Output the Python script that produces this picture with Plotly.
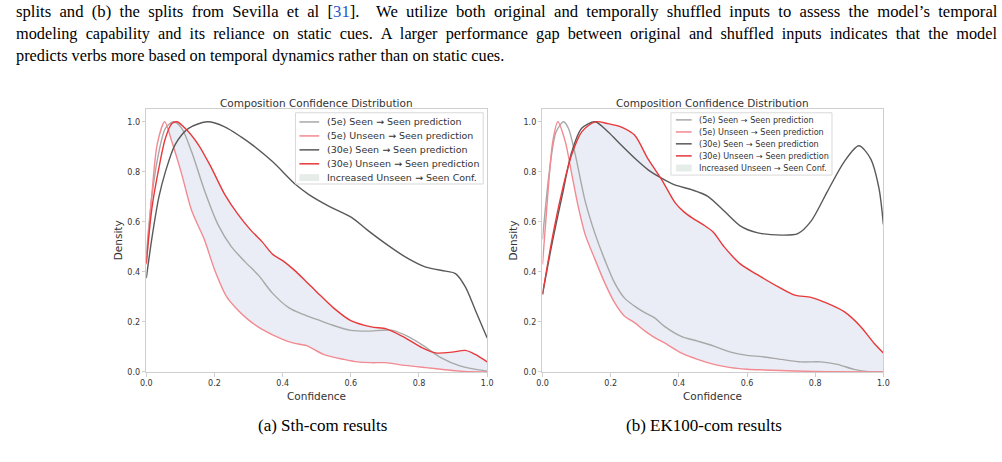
import numpy as np
import plotly.graph_objects as go

W, H = 1002, 462


def px(v):
    return v / W


def py(v):
    return 1 - v / H


# ---------------- data ----------------
# (a) Sth-com
a_seen5_x = [0, 0.017, 0.037, 0.056, 0.08, 0.104, 0.133, 0.172, 0.21, 0.25, 0.29, 0.33, 0.37, 0.42,
             0.46, 0.5, 0.54, 0.6, 0.65, 0.72, 0.77, 0.815, 0.864, 0.92, 0.96, 1.0]
a_seen5_y = [0.47, 0.71, 0.88, 0.974, 1.0, 0.974, 0.88, 0.72, 0.59, 0.5, 0.44, 0.385, 0.315, 0.255,
             0.23, 0.21, 0.19, 0.166, 0.163, 0.167, 0.14, 0.103, 0.057, 0.024, 0.012, 0.003]

a_unseen5_x = [0, 0.017, 0.032, 0.054, 0.075, 0.104, 0.133, 0.17, 0.2, 0.236, 0.26, 0.298, 0.34, 0.4,
               0.43, 0.47, 0.52, 0.58, 0.62, 0.66, 0.7, 0.76, 0.82, 0.87, 0.93, 1.0]
a_unseen5_y = [0.43, 0.72, 0.91, 1.0, 0.92, 0.79, 0.645, 0.53, 0.41, 0.3, 0.26, 0.21, 0.17, 0.13,
               0.116, 0.105, 0.07, 0.05, 0.04, 0.037, 0.037, 0.026, 0.017, 0.01, 0.002, 0.0]

a_seen30_x = [0, 0.017, 0.037, 0.056, 0.085, 0.124, 0.18, 0.23, 0.278, 0.313, 0.371, 0.439, 0.477,
              0.535, 0.603, 0.646, 0.704, 0.762, 0.82, 0.878, 0.907, 0.936, 0.965, 1.0]
a_seen30_y = [0.375, 0.54, 0.7, 0.8, 0.91, 0.974, 1.0, 0.98, 0.94, 0.906, 0.84, 0.748, 0.709,
              0.663, 0.617, 0.57, 0.511, 0.458, 0.419, 0.403, 0.393, 0.34, 0.248, 0.136]

a_unseen30_x = [0, 0.017, 0.037, 0.056, 0.075, 0.09, 0.114, 0.153, 0.191, 0.23, 0.269, 0.307, 0.34,
                0.371, 0.4, 0.44, 0.47, 0.5, 0.55, 0.6, 0.66, 0.704, 0.752, 0.81, 0.849, 0.897,
                0.936, 0.965, 1.0]
a_unseen30_y = [0.434, 0.66, 0.816, 0.934, 0.993, 1.0, 0.974, 0.908, 0.816, 0.71, 0.63, 0.566, 0.52,
                0.47, 0.445, 0.4, 0.36, 0.32, 0.255, 0.205, 0.18, 0.172, 0.142, 0.096, 0.076, 0.079,
                0.086, 0.07, 0.04]

# (b) EK100-com
b_seen5_x = [0, 0.02, 0.04, 0.062, 0.076, 0.096, 0.125, 0.154, 0.183, 0.212, 0.24, 0.27, 0.3, 0.328,
             0.358, 0.407, 0.455, 0.503, 0.552, 0.6, 0.643, 0.701, 0.759, 0.817, 0.865, 0.914,
             0.95, 1.0]
b_seen5_y = [0.53, 0.8, 0.96, 1.0, 0.974, 0.87, 0.684, 0.553, 0.447, 0.355, 0.296, 0.263, 0.237,
             0.217, 0.182, 0.142, 0.123, 0.103, 0.079, 0.066, 0.061, 0.05, 0.04, 0.04, 0.03, 0.01,
             0.002, 0.0]

b_unseen5_x = [0, 0.015, 0.03, 0.045, 0.067, 0.086, 0.105, 0.125, 0.154, 0.183, 0.212, 0.24, 0.27,
               0.3, 0.328, 0.358, 0.407, 0.455, 0.503, 0.552, 0.6, 0.65, 0.74, 0.836, 1.0]
b_unseen5_y = [0.43, 0.7, 0.92, 1.0, 0.92, 0.79, 0.66, 0.55, 0.45, 0.355, 0.276, 0.224, 0.197,
               0.164, 0.138, 0.116, 0.076, 0.05, 0.03, 0.017, 0.011, 0.008, 0.004, 0.001, 0.0]

b_seen30_x = [0, 0.028, 0.057, 0.086, 0.115, 0.154, 0.192, 0.23, 0.27, 0.31, 0.349, 0.388, 0.437,
              0.485, 0.533, 0.58, 0.629, 0.701, 0.749, 0.788, 0.836, 0.885, 0.928, 0.962, 0.987, 1.0]
b_seen30_y = [0.31, 0.513, 0.7, 0.88, 0.974, 1.0, 0.96, 0.908, 0.855, 0.808, 0.775, 0.748, 0.729,
              0.702, 0.643, 0.584, 0.557, 0.547, 0.553, 0.603, 0.722, 0.84, 0.904, 0.854, 0.735, 0.59]

b_unseen30_x = [0, 0.028, 0.057, 0.086, 0.115, 0.154, 0.192, 0.23, 0.27, 0.308, 0.33, 0.35, 0.37,
                0.39, 0.415, 0.44, 0.47, 0.5, 0.533, 0.58, 0.629, 0.692, 0.74, 0.788, 0.836, 0.885,
                0.933, 0.972, 1.0]
b_unseen30_y = [0.31, 0.53, 0.72, 0.87, 0.96, 1.0, 0.993, 0.98, 0.947, 0.855, 0.81, 0.768, 0.72,
                0.675, 0.64, 0.615, 0.59, 0.56, 0.5, 0.432, 0.39, 0.34, 0.307, 0.298, 0.274, 0.241,
                0.182, 0.116, 0.076]

series_names = ["(5e) Seen \u2192 Seen prediction", "(5e) Unseen \u2192 Seen prediction",
                "(30e) Seen \u2192 Seen prediction", "(30e) Unseen \u2192 Seen prediction"]
fill_name = "Increased Unseen \u2192 Seen Conf."
series_colors = ["#a8a8a8", "#f28a92", "#595959", "#e8383a"]
fill_color = "#eaedf5"

plot_title = "Composition Confidence Distribution"
x_label = "Confidence"
y_label = "Density"
tick_vals = [0.0, 0.2, 0.4, 0.6, 0.8, 1.0]
tick_text = ["0.0", "0.2", "0.4", "0.6", "0.8", "1.0"]
captions = ["(a) Sth-com results", "(b) EK100-com results"]

para_lines = [
    "splits and (b) the splits from Sevilla et al [<span style='color:#2b55c8'>31</span>].  We utilize both original and temporally shuffled inputs to assess the model\u2019s temporal",
    "modeling capability and its reliance on static cues. A larger performance gap between original and shuffled inputs indicates that the model",
    "predicts verbs more based on temporal dynamics rather than on static cues.",
]
para_justify = [True, True, False]
para_sizes = [16.65, 16.3, 16.3]

panels = [
    dict(series=[(a_seen5_x, a_seen5_y), (a_unseen5_x, a_unseen5_y),
                 (a_seen30_x, a_seen30_y), (a_unseen30_x, a_unseen30_y)],
         xa="x", ya="y", left=142, right=487,
         legend=dict(box=(293, 483, 114, 186), rows=(123.3, 137.4, 151.5, 165.6, 179.6),
                     sym=(297, 317), tx=323, fs=9.5),
         ylab_x=113, caption_x=320),
    dict(series=[(b_seen5_x, b_seen5_y), (b_unseen5_x, b_unseen5_y),
                 (b_seen30_x, b_seen30_y), (b_unseen30_x, b_unseen30_y)],
         xa="x2", ya="y2", left=543, right=888,
         legend=dict(box=(673, 836, 114, 177), rows=(121.2, 133.4, 145.4, 157.6, 169.8),
                     sym=(678, 694), tx=699, fs=8.1),
         ylab_x=513, caption_x=706),
]

TOP, BOTTOM = 110.5, 376
FONT = "DejaVu Sans"
SERIF = "Liberation Serif, Times New Roman, serif"

fig = go.Figure()
shapes = []
annotations = []

for k, p in enumerate(panels):
    (s5x, s5y), (u5x, u5y), (s30x, s30y), (u30x, u30y) = p["series"]
    u5x, u5y, u30x, u30y = map(np.asarray, (u5x, u5y, u30x, u30y))
    # fill region: where the 30e unseen curve lies above the 5e unseen curve (after their crossing)
    grid = np.linspace(0.03, 1.0, 400)
    diff = np.interp(grid, u30x, u30y) - np.interp(grid, u5x, u5y)
    xc = grid[np.argmax(diff >= 0)]
    lo_x = np.concatenate([[xc], u5x[u5x > xc]])
    lo_y = np.concatenate([[np.interp(xc, u5x, u5y)], u5y[u5x > xc]])
    hi_x = np.concatenate([[xc], u30x[u30x > xc]])
    hi_y = np.concatenate([[np.interp(xc, u30x, u30y)], u30y[u30x > xc]])
    fig.add_trace(go.Scatter(x=lo_x, y=lo_y, mode="lines", line=dict(width=0, shape="spline", smoothing=0.8),
                             xaxis=p["xa"], yaxis=p["ya"], showlegend=False, hoverinfo="skip"))
    fig.add_trace(go.Scatter(x=hi_x, y=hi_y, mode="lines", fill="tonexty", fillcolor=fill_color,
                             line=dict(width=0, shape="spline", smoothing=0.8),
                             xaxis=p["xa"], yaxis=p["ya"], showlegend=False, hoverinfo="skip",
                             name=fill_name))
    for (sx, sy), name, col in zip(p["series"], series_names, series_colors):
        fig.add_trace(go.Scatter(x=sx, y=sy, mode="lines", name=name,
                                 line=dict(color=col, width=1.4, shape="spline", smoothing=0.8),
                                 xaxis=p["xa"], yaxis=p["ya"], showlegend=False))

    cx = (p["left"] + p["right"]) / 2
    annotations.append(dict(text=plot_title, x=px(cx), y=py(TOP + 2), xref="paper", yref="paper",
                            xanchor="center", yanchor="bottom", showarrow=False,
                            font=dict(family=FONT, size=10.5, color="#333333")))
    annotations.append(dict(text=x_label, x=px(cx), y=py(400), xref="paper", yref="paper",
                            xanchor="center", yanchor="middle", showarrow=False,
                            font=dict(family=FONT, size=10.5, color="#333333")))
    annotations.append(dict(text=y_label, x=px(p["ylab_x"]), y=py((TOP + BOTTOM) / 2), xref="paper",
                            yref="paper", xanchor="center", yanchor="middle", showarrow=False,
                            textangle=-90, font=dict(family=FONT, size=10.5, color="#333333")))
    annotations.append(dict(text=captions[k], x=px(p["caption_x"]), y=py(430),
                            xref="paper", yref="paper", xanchor="center", yanchor="middle",
                            showarrow=False, font=dict(family=SERIF, size=17, color="#000000")))

    # legend (drawn manually to match matplotlib's compact layout)
    lg = p["legend"]
    x0, x1, y0, y1 = lg["box"]
    shapes.append(dict(type="rect", xref="paper", yref="paper", x0=px(x0), x1=px(x1),
                       y0=py(y1), y1=py(y0), fillcolor="rgba(255,255,255,0.85)",
                       line=dict(color="#d9d9d9", width=1), layer="above"))
    labels = series_names + [fill_name]
    for i, (ry, lab) in enumerate(zip(lg["rows"], labels)):
        if i < 4:
            shapes.append(dict(type="line", xref="paper", yref="paper", x0=px(lg["sym"][0]),
                               x1=px(lg["sym"][1]), y0=py(ry), y1=py(ry),
                               line=dict(color=series_colors[i], width=1.5), layer="above"))
        else:
            shapes.append(dict(type="rect", xref="paper", yref="paper", x0=px(lg["sym"][0]),
                               x1=px(lg["sym"][1]), y0=py(ry + 3.5), y1=py(ry - 3.5),
                               fillcolor="#e6ece8", line=dict(width=0), layer="above"))
        annotations.append(dict(text=lab, x=px(lg["tx"]), y=py(ry), xref="paper", yref="paper",
                                xanchor="left", yanchor="middle", showarrow=False,
                                font=dict(family=FONT, size=lg["fs"], color="#333333")))

# paragraph text above the figure (approximate full justification by widening word gaps)
for i, (line, just, fs) in enumerate(zip(para_lines, para_justify, para_sizes)):
    txt = line.replace("<span style=", "<span\u0001style=")
    if just:
        txt = txt.replace(" ", " \u00a0")
    txt = txt.replace("\u0001", " ")
    annotations.append(dict(text=txt, x=px(8), y=py(12 + 22.2 * i), xref="paper", yref="paper",
                            xanchor="left", yanchor="middle", showarrow=False,
                            font=dict(family=SERIF, size=fs, color="#000000")))

axis_common = dict(range=[0, 1], tickvals=tick_vals, ticktext=tick_text, showgrid=False,
                   zeroline=False, showline=True, mirror=True, linecolor="#cfcfcf", linewidth=1.3,
                   ticks="outside", ticklen=3.5, tickwidth=1, tickcolor="#cfcfcf",
                   tickfont=dict(family=FONT, size=8, color="#333333"), fixedrange=True)
yaxis_common = dict(axis_common)
yaxis_common["range"] = [0, 1.05]

fig.update_layout(
    width=W, height=H, margin=dict(l=0, r=0, t=0, b=0),
    paper_bgcolor="white", plot_bgcolor="white", showlegend=False,
    xaxis=dict(axis_common, domain=[px(142), px(487)], anchor="y"),
    yaxis=dict(yaxis_common, domain=[py(BOTTOM), py(TOP)], anchor="x"),
    xaxis2=dict(axis_common, domain=[px(543), px(888)], anchor="y2"),
    yaxis2=dict(yaxis_common, domain=[py(BOTTOM), py(TOP)], anchor="x2"),
    shapes=shapes, annotations=annotations, hovermode=False,
)

fig.write_html("out.html", config={"displayModeBar": False})
